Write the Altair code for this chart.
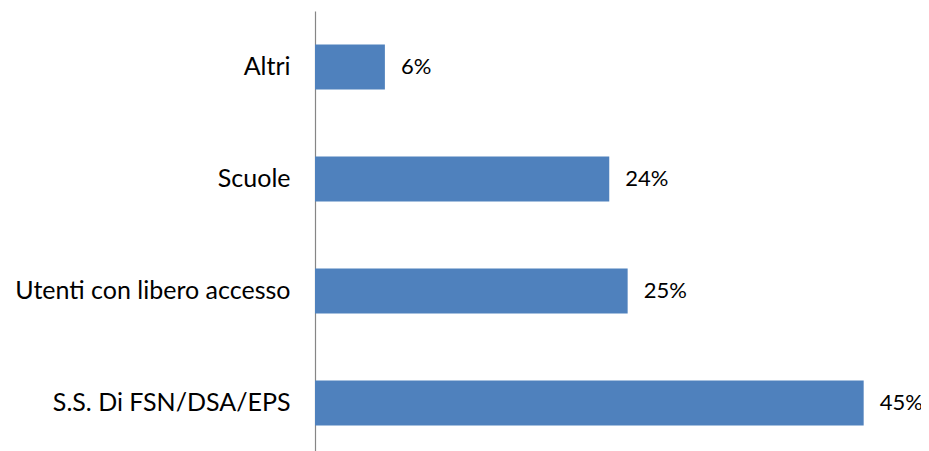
import altair as alt
import pandas as pd

categories = ["Altri", "Scuole", "Utenti con libero accesso", "S.S. Di FSN/DSA/EPS"]
values = [5.7, 24.0, 25.5, 44.75]
labels = ["6%", "24%", "25%", "45%"]

df = pd.DataFrame({"cat": categories, "val": values, "lab": labels})

FONT = "Lato"

y = alt.Y("cat:N", sort=categories, title=None,
          scale=alt.Scale(paddingInner=0.6, paddingOuter=0.3),
          axis=alt.Axis(labelFont=FONT, labelFontSize=25, labelColor="#000000",
                        labelFontWeight="normal",
                        labelPadding=25, ticks=False, domainColor="#868686",
                        domainWidth=1.2, labelLimit=400))
x = alt.X("val:Q", scale=alt.Scale(domain=[0, 46]), axis=None)

bars = alt.Chart(df).mark_bar(color="#4F81BD").encode(x=x, y=y)
text = alt.Chart(df).mark_text(align="left", baseline="middle", dx=16,
                               font=FONT, fontSize=22, color="#000000").encode(
    x=x, y=y, text="lab:N")

chart = (bars + text).properties(
    width=564, height=448,
    autosize=alt.AutoSizeParams(type="none"),
    padding={"left": 307, "top": 3, "right": 42, "bottom": 0},
).configure_view(stroke=None).configure_axis(grid=False)

chart.save("out.html", embed_options={"renderer": "svg", "actions": False})
